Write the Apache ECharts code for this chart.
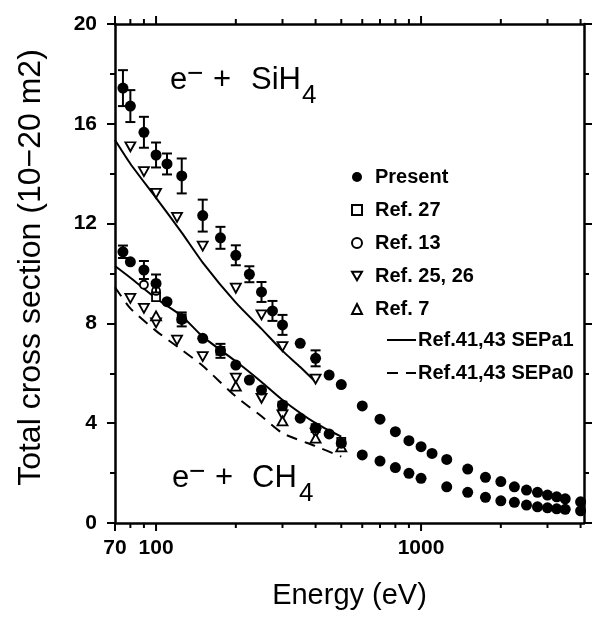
<!DOCTYPE html>
<html><head><meta charset="utf-8">
<script src="https://cdn.jsdelivr.net/npm/echarts@6/dist/echarts.min.js"></script>
<style>html,body{margin:0;padding:0;background:#fff}#c{width:593px;height:617px}</style>
</head><body><div id="c"></div>
<script>
// ---- data (energy in eV, cross section in 1e-20 m^2) ----
const sih4PresentE = [75,80,90,100,110,125,150,175,200,225,250,275,300,350,400,450,500,600,700,800,900,1000,1100,1250,1500,1750,2000,2250,2500,2750,3000,3250,3500,4000];
const sih4PresentV = [17.43,16.71,15.66,14.75,14.39,13.91,12.32,11.43,10.73,9.97,9.26,8.5,7.94,7.2,6.6,5.93,5.55,4.69,4.16,3.66,3.3,3.06,2.79,2.55,2.16,1.83,1.66,1.45,1.32,1.23,1.12,1.05,0.97,0.85];
const sih4PresentErr = [0.72,0.64,0.62,0.5,0.42,0.7,0.64,0.44,0.4,0.32,0.4,0.4,0.4,0,0.32,0,0,0,0,0,0,0,0,0,0,0,0,0,0,0,0,0,0,0];

const ch4PresentE = [75,80,90,100,110,125,150,175,200,225,250,300,350,400,450,500,600,700,800,900,1000,1250,1500,1750,2000,2250,2500,2750,3000,3250,3500,4000];
const ch4PresentV = [10.87,10.47,10.14,9.6,8.87,8.16,7.4,6.9,6.33,5.73,5.33,4.73,4.2,3.81,3.57,3.2,2.73,2.48,2.22,1.99,1.79,1.45,1.23,1.03,0.89,0.83,0.72,0.65,0.61,0.57,0.55,0.49];
const ch4PresentErr = [0.25,0,0.36,0.36,0,0.28,0,0.28,0,0,0,0,0,0,0,0,0,0,0,0,0,0,0,0,0,0,0,0,0,0,0,0];

const ref27CH4E = [100,125,175,300,400,500];
const ref27CH4V = [9.05,8.2,6.9,4.7,3.8,3.25];

const ref13CH4E = [90,100];
const ref13CH4V = [9.55,9.3];

const ref2526SiH4E = [80,90,100,120,150,200,250,300,400];
const ref2526SiH4V = [15.08,14.08,13.21,12.25,11.1,9.41,8.34,7.07,5.77];
const ref2526CH4E = [80,90,100,120,150,200,250,300,400];
const ref2526CH4V = [9.0,8.6,8.02,7.33,6.67,5.81,5.0,4.33,3.6];

const ref7CH4E = [100,200,300,400,500];
const ref7CH4V = [8.3,5.49,4.09,3.4,3.05];

const sepa1SiH4E = [70,80,100,125,150,200,250,300,350,400];
const sepa1SiH4V = [15.35,14.4,13.03,11.64,10.44,8.83,7.78,6.9,6.25,5.65];
const sepa1CH4E = [70,80,100,125,150,200,250,300,400,500];
const sepa1CH4V = [10.3,9.83,9.0,8.3,7.47,6.48,5.65,4.93,4.0,3.46];
const sepa0CH4E = [70,80,100,125,150,200,250,300,400,500];
const sepa0CH4V = [9.45,8.6,7.7,6.94,6.3,5.07,4.28,3.6,3.08,2.66];

const xMajorTicks = [70,100,1000];
const xMinorTicks = [80,90,200,300,400,500,600,700,800,900,2000,3000,4000];
const xLabels = [70,100,1000];

// ---- helpers ----
const zip = (a,b) => a.map((v,i)=>[v,b[i]]);
const errRows = (E,V,Er) => E.map((e,i)=>[e,V[i],Er[i]]).filter(r=>r[2]>0);
const FONT = '"Liberation Sans", Arial, Helvetica, sans-serif';
const BLACK = '#000';
const downTri = 'path://M0,0L20,0L10,17.3Z';

const tickRows = xMajorTicks.map(e=>[e,8]).concat(xMinorTicks.map(e=>[e,5]));

const chart = echarts.init(document.getElementById('c'), null, {renderer:'canvas'});

const openStyle = {color:'#fff', borderColor:BLACK, borderWidth:1.8, opacity:1};

function errRender(params, api){
  const e = api.value(0), v = api.value(1), er = api.value(2);
  const p1 = api.coord([e, v+er]), p2 = api.coord([e, v-er]);
  const st = {stroke:BLACK, lineWidth:2};
  const w = 5;
  return {type:'group', children:[
    {type:'line', shape:{x1:p1[0], y1:p1[1], x2:p2[0], y2:p2[1]}, style:st},
    {type:'line', shape:{x1:p1[0]-w, y1:p1[1], x2:p1[0]+w, y2:p1[1]}, style:st},
    {type:'line', shape:{x1:p2[0]-w, y1:p2[1], x2:p2[0]+w, y2:p2[1]}, style:st}
  ]};
}

const option = {
  animation:false,
  backgroundColor:'#fff',
  grid:{left:115, right:9, top:24, bottom:94, containLabel:false},
  xAxis:[{
    type:'log', logBase:10, min:70, max:4120, position:'bottom',
    axisLine:{show:true, onZero:false, lineStyle:{color:BLACK, width:2.5}},
    axisTick:{show:false},
    splitLine:{show:false},
    axisLabel:{
      show:true, margin:15, color:BLACK, fontFamily:FONT, fontWeight:'bold', fontSize:21,
      showMinLabel:true, showMaxLabel:false,
      formatter:function(v){ for (const t of xLabels){ if (Math.abs(v-t)/t < 0.01) return String(t);} return ''; }
    },
    name:'Energy (eV)', nameLocation:'middle', nameGap:58,
    nameTextStyle:{color:BLACK, fontFamily:FONT, fontSize:29}
  },{
    type:'log', logBase:10, min:70, max:4120, position:'top',
    axisLine:{show:true, onZero:false, lineStyle:{color:BLACK, width:2.5}},
    axisTick:{show:false}, axisLabel:{show:false}, splitLine:{show:false}
  }],
  yAxis:[{
    type:'value', min:0, max:20, interval:4, position:'left',
    axisLine:{show:true, onZero:false, lineStyle:{color:BLACK, width:2.5}},
    axisTick:{show:true, inside:false, length:8, lineStyle:{color:BLACK, width:2}},
    minorTick:{show:true, splitNumber:2, length:5, lineStyle:{color:BLACK, width:2}},
    splitLine:{show:false}, minorSplitLine:{show:false},
    axisLabel:{margin:18, color:BLACK, fontFamily:FONT, fontWeight:'bold', fontSize:21},
    name:'Total cross section (10\u221220 m2)', nameLocation:'middle', nameGap:68, nameRotate:90,
    nameTextStyle:{color:BLACK, fontFamily:FONT, fontSize:32, padding:[0,0,0,12]}
  },{
    type:'value', min:0, max:20, interval:4, position:'right',
    axisLine:{show:true, onZero:false, lineStyle:{color:BLACK, width:2.5}},
    axisTick:{show:true, inside:false, length:8, lineStyle:{color:BLACK, width:2}},
    minorTick:{show:true, splitNumber:2, length:5, lineStyle:{color:BLACK, width:2}},
    splitLine:{show:false}, minorSplitLine:{show:false},
    axisLabel:{show:false}
  }],
  legend:[{
    data:['Present','Ref. 27','Ref. 13','Ref. 25, 26','Ref. 7'],
    orient:'vertical', left:351, top:167, padding:0, itemWidth:10, itemHeight:10, itemGap:13,
    textStyle:{color:BLACK, fontFamily:FONT, fontWeight:'bold', fontSize:20, padding:[0,0,0,8]},
    selectedMode:false
  },{
    data:['Ref.41,43 SEPa1','Ref.41,43 SEPa0'],
    orient:'vertical', left:386, top:330, padding:0, itemWidth:29, itemHeight:10, itemGap:13,
    itemStyle:{opacity:0},
    textStyle:{color:BLACK, fontFamily:FONT, fontWeight:'bold', fontSize:20, padding:[0,0,0,-3]},
    selectedMode:false
  }],
  graphic:[
    {type:'text', left:170, top:65, style:{text:'e', font:'31px '+FONT, fill:BLACK}},
    {type:'text', left:187, top:60, style:{text:'\u2212', font:'28px '+FONT, fill:BLACK}},
    {type:'text', left:213, top:65, style:{text:'+', font:'31px '+FONT, fill:BLACK}},
    {type:'text', left:251, top:65, style:{text:'SiH', font:'31px '+FONT, fill:BLACK}},
    {type:'text', left:302, top:83, style:{text:'4', font:'26px '+FONT, fill:BLACK}},
    {type:'text', left:172, top:463, style:{text:'e', font:'31px '+FONT, fill:BLACK}},
    {type:'text', left:189, top:458, style:{text:'\u2212', font:'28px '+FONT, fill:BLACK}},
    {type:'text', left:215, top:463, style:{text:'+', font:'31px '+FONT, fill:BLACK}},
    {type:'text', left:252, top:463, style:{text:'CH', font:'31px '+FONT, fill:BLACK}},
    {type:'text', left:299, top:481, style:{text:'4', font:'26px '+FONT, fill:BLACK}}
  ],
  series:[
    {type:'custom', name:'xticks', silent:true, clip:false, data:tickRows, z:10,
     renderItem:function(params, api){
       const e = api.value(0), len = api.value(1);
       const pb = api.coord([e,0]), pt = api.coord([e,20]);
       const st = {stroke:BLACK, lineWidth:2};
       return {type:'group', children:[
         {type:'line', shape:{x1:pb[0], y1:pb[1], x2:pb[0], y2:pb[1]+len}, style:st},
         {type:'line', shape:{x1:pt[0], y1:pt[1], x2:pt[0], y2:pt[1]-len}, style:st}
       ]};
     }},
    {type:'line', name:'Ref.41,43 SEPa1', data:zip(sepa1SiH4E,sepa1SiH4V), symbol:'none', smooth:0.2,
     lineStyle:{color:BLACK, width:2}, itemStyle:{color:BLACK}, z:2},
    {type:'line', name:'Ref.41,43 SEPa1', data:zip(sepa1CH4E,sepa1CH4V), symbol:'none', smooth:0.2,
     lineStyle:{color:BLACK, width:2}, itemStyle:{color:BLACK}, z:2},
    {type:'line', name:'Ref.41,43 SEPa0', data:zip(sepa0CH4E,sepa0CH4V), symbol:'none', smooth:0.2,
     lineStyle:{color:BLACK, width:2, type:[11,8]}, itemStyle:{color:BLACK}, z:2},
    {type:'scatter', name:'Ref. 27', data:zip(ref27CH4E,ref27CH4V), symbol:'rect', symbolSize:8, itemStyle:openStyle, z:3},
    {type:'scatter', name:'Ref. 13', data:zip(ref13CH4E,ref13CH4V), symbol:'circle', symbolSize:8, itemStyle:openStyle, z:3},
    {type:'scatter', name:'Ref. 25, 26', data:zip(ref2526SiH4E,ref2526SiH4V), symbol:downTri, symbolSize:[10,9], itemStyle:openStyle, z:3},
    {type:'scatter', name:'Ref. 25, 26', data:zip(ref2526CH4E,ref2526CH4V), symbol:downTri, symbolSize:[10,9], itemStyle:openStyle, z:3},
    {type:'scatter', name:'Ref. 7', data:zip(ref7CH4E,ref7CH4V), symbol:'triangle', symbolSize:[10,9], itemStyle:openStyle, z:3},
    {type:'custom', name:'errSiH4', silent:true, data:errRows(sih4PresentE,sih4PresentV,sih4PresentErr), z:4,
     renderItem:errRender},
    {type:'custom', name:'errCH4', silent:true, data:errRows(ch4PresentE,ch4PresentV,ch4PresentErr), z:4,
     renderItem:errRender},
    {type:'scatter', name:'Present', data:zip(sih4PresentE,sih4PresentV), symbol:'circle', symbolSize:11, itemStyle:{color:BLACK, opacity:1}, z:5},
    {type:'scatter', name:'Present', data:zip(ch4PresentE,ch4PresentV), symbol:'circle', symbolSize:11, itemStyle:{color:BLACK, opacity:1}, z:5}
  ]
};

chart.setOption(option);
</script>
</body></html>
